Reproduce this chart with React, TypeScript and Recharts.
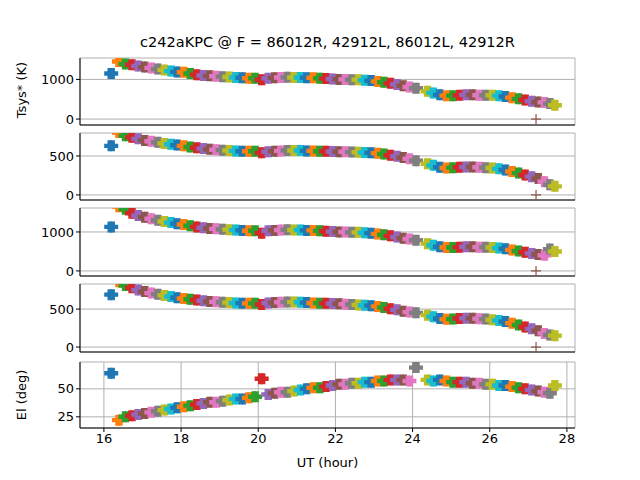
import React from 'react'
import { ScatterChart, Scatter, XAxis, YAxis, CartesianGrid } from 'recharts'

// scan centre times (UT hours)
const times = [
  16.15, 16.35, 16.52, 16.69, 16.85, 17.02, 17.19, 17.36, 17.53, 17.7, 17.86, 18.03, 18.2, 18.37, 18.54, 18.71, 18.87, 19.04, 19.21, 19.38, 19.55, 19.72, 19.88, 20.05,
  20.22, 20.39, 20.55, 20.72, 20.89, 21.06, 21.22, 21.39, 21.56, 21.72, 21.89, 22.06, 22.22, 22.39, 22.56, 22.72, 22.89, 23.06, 23.22, 23.39, 23.56, 23.72, 23.88, 24.05,
  24.35, 24.5, 24.67, 24.84, 25.01, 25.18, 25.35, 25.52, 25.69, 25.86, 26.03, 26.2, 26.37, 26.54, 26.71, 26.88, 27.05, 27.22, 27.38, 27.52, 27.65,
]

const tsys86R = [
  1150, 1450, 1390, 1370, 1340, 1310, 1290, 1260, 1240, 1210, 1190, 1180, 1150, 1120, 1100, 1090, 1080, 1070, 1060, 1050, 1040, 1030, 1030, 990,
  1030, 1040, 1050, 1055, 1050, 1050, 1040, 1040, 1030, 1020, 1010, 1000, 1000, 990, 990, 980, 970, 950, 930, 900, 870, 840, 810, 780,
  700, 660, 610, 590, 590, 600, 610, 610, 600, 600, 600, 590, 570, 540, 510, 480, 450, 430, 420, 390, 350,
]
const tsys43R = [
  630, 800, 760, 740, 720, 700, 690, 675, 660, 650, 640, 630, 615, 605, 595, 585, 580, 575, 570, 565, 560, 560, 560, 540,
  555, 560, 565, 570, 570, 570, 565, 565, 560, 560, 558, 555, 555, 550, 548, 545, 540, 535, 525, 510, 495, 480, 465, 440,
  400, 380, 355, 345, 350, 355, 358, 358, 355, 350, 345, 335, 320, 300, 280, 255, 235, 210, 170, 130, 110,
]
const tsys86L = [
  1130, 1650, 1580, 1480, 1420, 1380, 1340, 1300, 1270, 1240, 1210, 1190, 1160, 1130, 1110, 1090, 1080, 1070, 1060, 1050, 1040, 1030, 1030, 970,
  1030, 1040, 1050, 1055, 1050, 1050, 1040, 1040, 1030, 1020, 1010, 1000, 1000, 990, 990, 980, 970, 950, 930, 900, 870, 840, 820, 790,
  700, 660, 620, 600, 600, 610, 620, 620, 610, 610, 600, 590, 570, 540, 510, 480, 450, 420, 400, 560, 500,
]
const tsys43L = [
  690, 860, 810, 780, 750, 730, 710, 695, 680, 665, 650, 640, 630, 620, 610, 600, 595, 590, 585, 580, 578, 575, 575, 560,
  580, 585, 590, 592, 592, 590, 585, 580, 578, 575, 572, 570, 565, 560, 555, 550, 545, 535, 520, 505, 490, 470, 460, 450,
  420, 400, 375, 365, 370, 375, 378, 378, 372, 368, 360, 350, 335, 315, 290, 265, 240, 215, 180, 160, 150,
]
const elev = [
  64, 22, 25, 26, 27, 28, 29, 30, 31, 32, 33, 34, 35, 36, 37, 38, 38, 39, 40, 41, 41, 42, 43, 59,
  45, 46, 47, 47, 48, 49, 50, 51, 51, 52, 53, 54, 54, 55, 55, 56, 56, 57, 57, 58, 58, 58, 57, 69,
  58, 57, 58, 57, 56, 56, 56, 55, 55, 54, 54, 53, 53, 52, 51, 50, 49, 48, 47, 46, 53,
]

const outlierTime = 27.2
const colors = ['#1f77b4', '#ff7f0e', '#2ca02c', '#d62728', '#9467bd', '#8c564b', '#e377c2', '#7f7f7f', '#bcbd22', '#17becf']
const xTicks = [16, 18, 20, 22, 24, 26, 28]

const FONT = 'DejaVu Sans, sans-serif'

function PlusMarker(props: any) {
  const { cx, cy, payload } = props
  const c = colors[payload.i % 10]
  const a = 5.5, b = 2.2
  const d = `M${cx - b},${cy - a}h${2 * b}v${a - b}h${a - b}v${2 * b}h${b - a}v${a - b}h${-2 * b}v${b - a}h${b - a}v${-2 * b}h${a - b}z`
  return <g><path d={d} fill={c} /><path d={d} fill={c} transform="translate(3,0)" /></g>
}

function ThinPlus(props: any) {
  const { cx, cy } = props
  return <path d={`M${cx - 5},${cy}h10M${cx},${cy - 5}v10`} stroke="#8c564b" strokeWidth={1.2} />
}

interface PanelProps {
  values: number[]
  domain: [number, number]
  ticks: number[]
  top: number
  height: number
  outlier?: number
  last?: boolean
}

function Panel({ values, domain, ticks, top, height, outlier, last }: PanelProps) {
  const data = times.map((t, i) => ({ t, v: values[i], i }))
  const xh = last ? 22 : 6
  return (
    <div style={{ position: 'absolute', left: 0, top: top - 5 }}>
      <ScatterChart width={640} height={height + 5 + xh} margin={{ top: 5, right: 65, bottom: 0, left: 30 }}>
        <CartesianGrid stroke="#b0b0b0" horizontal vertical />
        <XAxis type="number" dataKey="t" domain={[15.38, 28.21]} ticks={xTicks} allowDataOverflow
          height={xh} stroke="#000" tick={last ? { fill: '#000', fontSize: 13, fontFamily: FONT } : false}
          tickLine={{ stroke: '#000' }} tickSize={4} interval={0} />
        <XAxis xAxisId="top" orientation="top" type="number" dataKey="t" domain={[15.38, 28.21]} height={0} tick={false} stroke="#000" />
        <YAxis type="number" dataKey="v" domain={domain} ticks={ticks} allowDataOverflow width={50}
          stroke="#000" tick={{ fill: '#000', fontSize: 13, fontFamily: FONT }} tickSize={4} interval={0} />
        <YAxis yAxisId="right" orientation="right" type="number" dataKey="v" domain={domain} width={0} tick={false} stroke="#000" />
        <Scatter data={data} shape={PlusMarker} isAnimationActive={false} />
        {outlier !== undefined && (
          <Scatter data={[{ t: outlierTime, v: outlier, i: 5 }]} shape={ThinPlus} isAnimationActive={false} />
        )}
      </ScatterChart>
    </div>
  )
}

export default function App() {
  return (
    <div style={{ position: 'absolute', left: 0, top: 0, width: 640, height: 480, background: '#fff', fontFamily: FONT }}>
      <div style={{ position: 'absolute', top: 34, left: 0, width: 655, textAlign: 'center', fontSize: 14.5 }}>
        c242aKPC @ F = 86012R, 42912L, 86012L, 42912R
      </div>
      <Panel values={tsys86R} domain={[-150, 1540]} ticks={[0, 1000]} top={58} height={67} outlier={0} />
      <Panel values={tsys43R} domain={[-65, 795]} ticks={[0, 500]} top={133} height={67} outlier={0} />
      <Panel values={tsys86L} domain={[-130, 1615]} ticks={[0, 1000]} top={208} height={68} outlier={0} />
      <Panel values={tsys43L} domain={[-65, 830]} ticks={[0, 500]} top={284} height={68} outlier={0} />
      <Panel values={elev} domain={[15, 74]} ticks={[25, 50]} top={362} height={66} last />
      <div style={{ position: 'absolute', left: 21, top: 90, fontSize: 13, transform: 'translate(-50%,-50%) rotate(-90deg)', whiteSpace: 'nowrap' }}>Tsys* (K)</div>
      <div style={{ position: 'absolute', left: 21, top: 395, fontSize: 13, transform: 'translate(-50%,-50%) rotate(-90deg)', whiteSpace: 'nowrap' }}>El (deg)</div>
      <div style={{ position: 'absolute', left: 0, width: 655, top: 455, textAlign: 'center', fontSize: 13 }}>UT (hour)</div>
    </div>
  )
}
